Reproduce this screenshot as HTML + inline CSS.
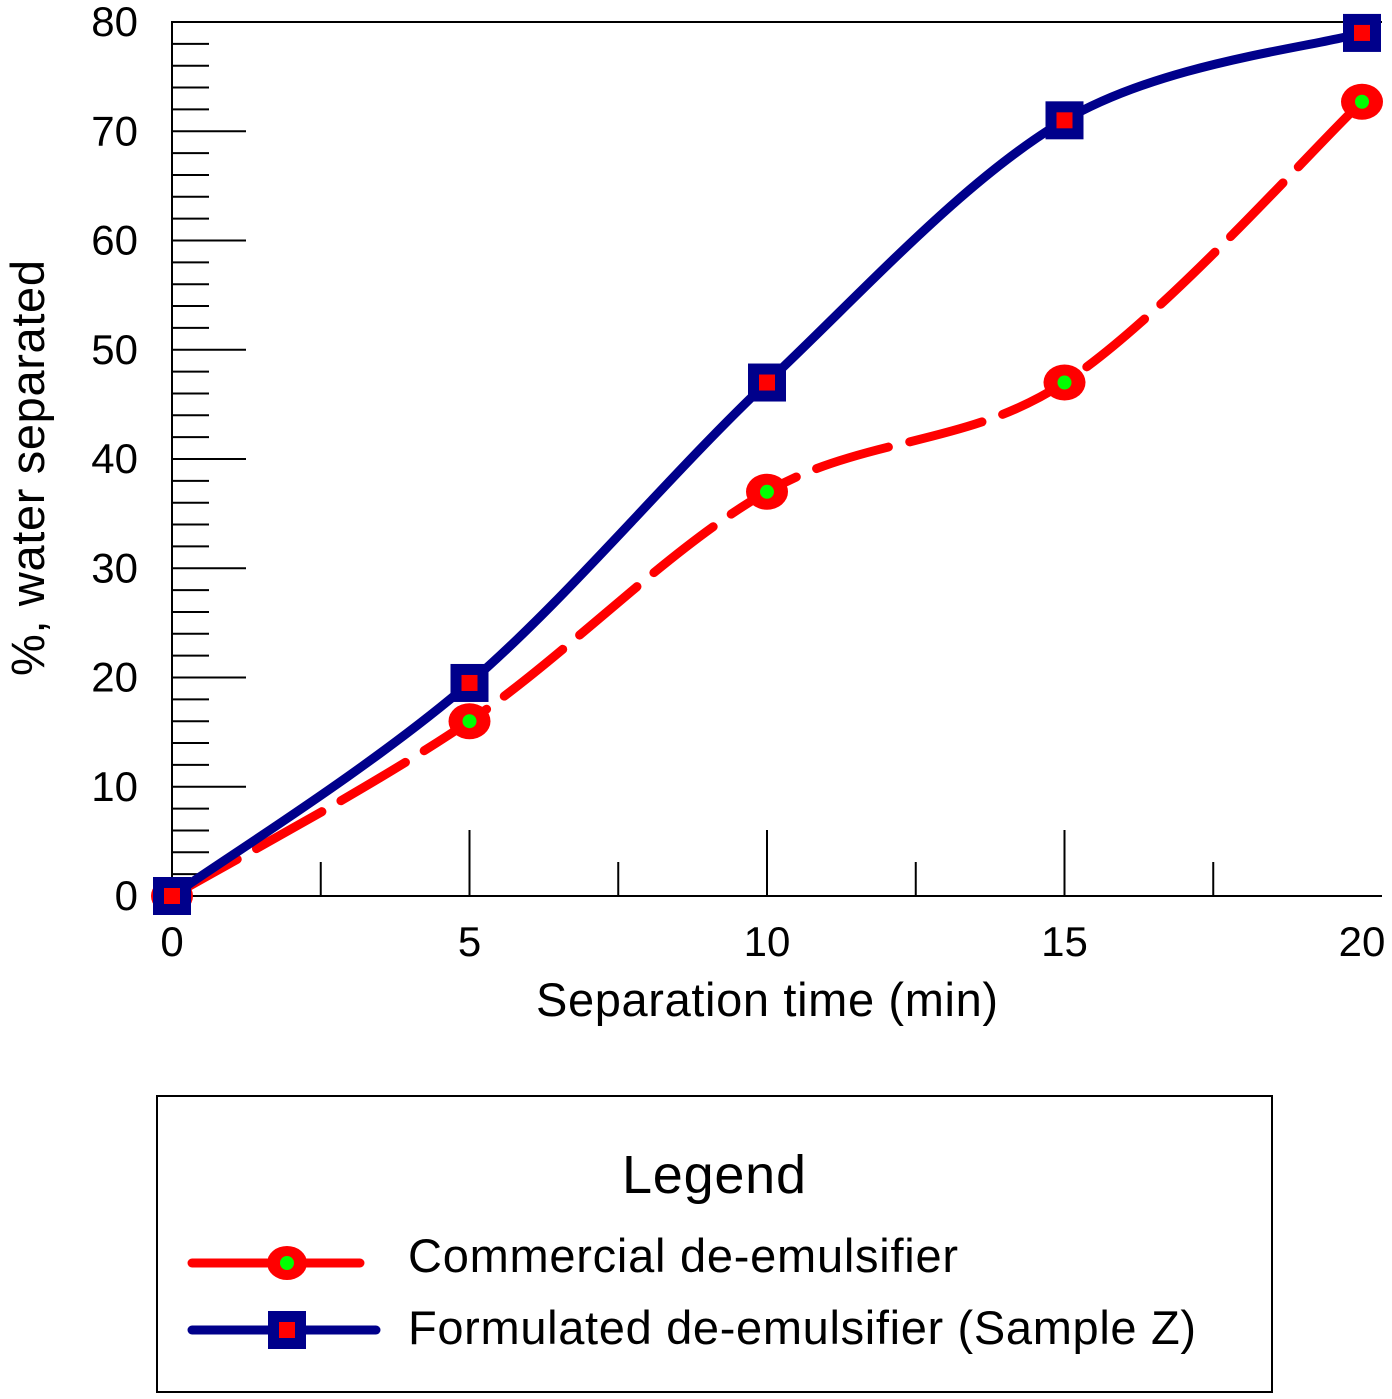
<!DOCTYPE html>
<html><head><meta charset="utf-8"><style>
html,body{margin:0;padding:0;background:#fff;}
svg{display:block;font-family:"Liberation Sans",Arial,sans-serif;}
</style></head><body>
<svg id="chart" width="1392" height="1399" viewBox="0 0 1392 1399" xmlns="http://www.w3.org/2000/svg">
<g id="axes"></g>
<g id="series"></g>
<text x="44" y="468" font-size="47" text-anchor="middle" textLength="416" transform="rotate(-90 44 468)">%, water separated</text>
<text x="767" y="1016" font-size="47" text-anchor="middle" textLength="462">Separation time (min)</text>
<g>
<rect x="157" y="1096" width="1115" height="296" fill="none" stroke="#000" stroke-width="2"/>
<text x="714" y="1193" font-size="54" text-anchor="middle" textLength="184">Legend</text>
<g>
<line x1="192" y1="1263" x2="376" y2="1263" stroke="#f00" stroke-width="9" stroke-dasharray="75,18" stroke-linecap="round"/>
<ellipse cx="287" cy="1263" rx="20" ry="17" fill="#f00"/><circle cx="287" cy="1263" r="7" fill="#0f0"/>
<text x="408" y="1272" font-size="47" textLength="550">Commercial de-emulsifier</text></g>
<g>
<line x1="192" y1="1330" x2="376" y2="1330" stroke="#00008b" stroke-width="9" stroke-linecap="round"/>
<rect x="268" y="1311" width="38" height="38" fill="#00008b"/><rect x="279" y="1322" width="16" height="16" fill="#f00"/>
<text x="408" y="1344" font-size="47" textLength="788">Formulated de-emulsifier (Sample Z)</text></g>
</g>
</svg>
<script>
const xValues=[0,5,10,15,20];
const commercial=[0,16,37,47,72.7];
const formulated=[0,19.5,47,71,79];
const yTicks=[0,10,20,30,40,50,60,70,80];
const xTicks=[0,5,10,15,20];
const NS="http://www.w3.org/2000/svg";
const X0=172,X1=1362,Y0=896,Y1=22;
const sx=v=>X0+(X1-X0)*v/20, sy=v=>Y0-(Y0-Y1)*v/80;
function mk(t,a,p){const e=document.createElementNS(NS,t);for(const k in a)e.setAttribute(k,a[k]);p.appendChild(e);return e;}
const ax=document.getElementById('axes');
const al=mk('path',{d:`M1382 ${Y1} H${X0} V${Y0} H1382`,fill:'none',stroke:'#000','stroke-width':2},ax);


for(let v=0;v<=80;v+=2){
  const major=v%10===0;
  const l=mk('line',{x1:X0,x2:X0+(major?74:37),y1:sy(v),y2:sy(v),stroke:'#000','stroke-width':2},ax);
  
  
}
yTicks.forEach(v=>{const t=mk('text',{x:138,y:sy(v)+14,'font-size':42,'text-anchor':'end'},ax);t.textContent=v;
  
  });
for(let v=2.5;v<20;v+=2.5){
  const major=v%5===0;
  const l=mk('line',{x1:sx(v),x2:sx(v),y1:Y0,y2:Y0-(major?66:34),stroke:'#000','stroke-width':2},ax);
  
  
}
xTicks.forEach(v=>{const t=mk('text',{x:sx(v),y:956,'font-size':42,'text-anchor':'middle'},ax);t.textContent=v;
  
  });
function smooth(ys){
  const p=xValues.map((x,i)=>[sx(x),sy(ys[i])]);
  let d=`M${p[0][0]} ${p[0][1]}`;
  for(let i=0;i<p.length-1;i++){
    const a=p[Math.max(i-1,0)],b=p[i],c=p[i+1],e=p[Math.min(i+2,p.length-1)];
    const c1=[b[0]+(c[0]-a[0])/6,b[1]+(c[1]-a[1])/6],c2=[c[0]-(e[0]-b[0])/6,c[1]-(e[1]-b[1])/6];
    d+=` C${c1[0]} ${c1[1]} ${c2[0]} ${c2[1]} ${c[0]} ${c[1]}`;
  }
  return d;
}
const sg=document.getElementById('series');
const rl=mk('path',{d:smooth(commercial),fill:'none',stroke:'#f00','stroke-width':9,'stroke-dasharray':'75,22','stroke-linecap':'round'},sg);


const bl=mk('path',{d:smooth(formulated),fill:'none',stroke:'#00008b','stroke-width':9},sg);


xValues.forEach((x,i)=>{
  const g=mk('g',{},sg);
  
  
  mk('ellipse',{cx:sx(x),cy:sy(commercial[i]),rx:21,ry:18,fill:'#f00'},g);
  mk('circle',{cx:sx(x),cy:sy(commercial[i]),r:7,fill:'#0f0'},g);
});
xValues.forEach((x,i)=>{
  const g=mk('g',{},sg);
  
  
  mk('rect',{x:sx(x)-19,y:sy(formulated[i])-19,width:38,height:38,fill:'#00008b'},g);
  mk('rect',{x:sx(x)-8,y:sy(formulated[i])-8,width:16,height:16,fill:'#f00'},g);
});
</script>
</body></html>
